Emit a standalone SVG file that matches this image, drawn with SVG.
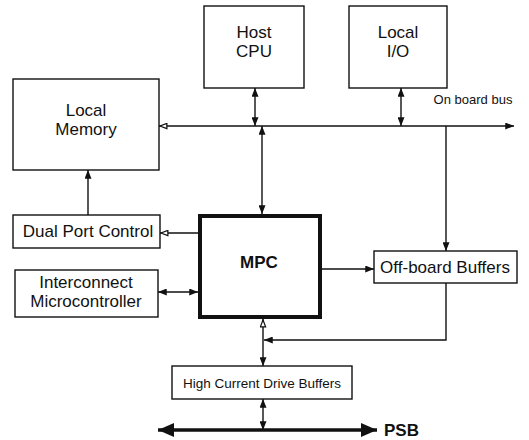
<svg xmlns="http://www.w3.org/2000/svg" width="529" height="440" viewBox="0 0 529 440">
<style>
.box{fill:#fff;stroke:#111;stroke-width:1.4}
.thick{fill:#fff;stroke:#111;stroke-width:4}
.t{font-family:"Liberation Sans",Arial,sans-serif;font-size:17px;fill:#111;text-anchor:middle}
.s{font-size:13.5px}
.b{font-weight:bold}
.ln{fill:none;stroke:#111;stroke-width:1.4}
.psb{fill:none;stroke:#111;stroke-width:3.5}
</style>
<defs>
<marker id="ah" viewBox="0 0 10 8" refX="10" refY="4" markerWidth="9" markerHeight="7" markerUnits="userSpaceOnUse" orient="auto-start-reverse"><path d="M0,0 L10,4 L0,8 z" fill="#111"/></marker>
<marker id="ao" viewBox="0 0 10 8" refX="10" refY="4" markerWidth="9" markerHeight="7" markerUnits="userSpaceOnUse" orient="auto-start-reverse"><path d="M1,1 L9,4 L1,7 z" fill="#fff" stroke="#111" stroke-width="1.4"/></marker>
<marker id="big" viewBox="0 0 16 14" refX="16" refY="7" markerWidth="16" markerHeight="14" markerUnits="userSpaceOnUse" orient="auto-start-reverse"><path d="M0,0 L16,7 L0,14 z" fill="#111"/></marker>
</defs>
<g id="connectors">
<line class="ln" x1="255" y1="88" x2="255" y2="126" marker-start="url(#ah)" marker-end="url(#ah)"/>
<line class="ln" x1="401" y1="88" x2="401" y2="126" marker-start="url(#ah)" marker-end="url(#ah)"/>
<line class="ln" x1="159" y1="126" x2="514" y2="126" marker-start="url(#ao)" marker-end="url(#ah)"/>
<line class="ln" x1="262" y1="126" x2="262" y2="214" marker-start="url(#ah)" marker-end="url(#ah)"/>
<line class="ln" x1="446" y1="126" x2="446" y2="251" marker-end="url(#ah)"/>
<line class="ln" x1="88" y1="215" x2="88" y2="170" marker-end="url(#ah)"/>
<line class="ln" x1="198" y1="233" x2="160" y2="233" marker-end="url(#ao)"/>
<line class="ln" x1="158" y1="292" x2="198" y2="292" marker-start="url(#ah)" marker-end="url(#ah)"/>
<line class="ln" x1="322" y1="269" x2="374" y2="269" marker-end="url(#ah)"/>
<polyline class="ln" points="446,283 446,340 264,340" marker-end="url(#ah)"/>
<line class="ln" x1="263" y1="319" x2="263" y2="366" marker-start="url(#ao)" marker-end="url(#ah)"/>
<line class="ln" x1="263" y1="399" x2="263" y2="430" marker-start="url(#ah)" marker-end="url(#ah)"/>
<line class="psb" x1="158" y1="430" x2="377" y2="430" marker-start="url(#big)" marker-end="url(#big)"/>
</g>
<g id="host-cpu"><rect class="box" x="204" y="6" width="100" height="82"/><text class="t" x="254" y="38">Host</text><text class="t" x="254" y="57">CPU</text></g>
<g id="local-io"><rect class="box" x="349" y="6" width="98" height="82"/><text class="t" x="398" y="38">Local</text><text class="t" x="398" y="57">I/O</text></g>
<g id="local-memory"><rect class="box" x="13" y="79" width="146" height="91"/><text class="t" x="86" y="116">Local</text><text class="t" x="86" y="135">Memory</text></g>
<g id="bus-label"><text class="t s" x="473" y="104" style="font-size:13px">On board bus</text></g>
<g id="dual-port-control"><rect class="box" x="13" y="215" width="147" height="33"/><text class="t" x="88" y="237">Dual Port Control</text></g>
<g id="mpc"><rect class="thick" x="200" y="216" width="120" height="101"/><text class="t b" x="259" y="268">MPC</text></g>
<g id="interconnect"><rect class="box" x="15" y="270" width="143" height="47"/><text class="t" x="86" y="288">Interconnect</text><text class="t" x="86" y="307">Microcontroller</text></g>
<g id="off-board-buffers"><rect class="box" x="374" y="251" width="143" height="32"/><text class="t" x="445" y="273">Off-board Buffers</text></g>
<g id="hcdb"><rect class="box" x="172" y="366" width="180" height="33"/><text class="t s" x="262" y="388">High Current Drive Buffers</text></g>
<g id="psb"><text class="t b" x="384" y="436" style="text-anchor:start">PSB</text></g>
</svg>
